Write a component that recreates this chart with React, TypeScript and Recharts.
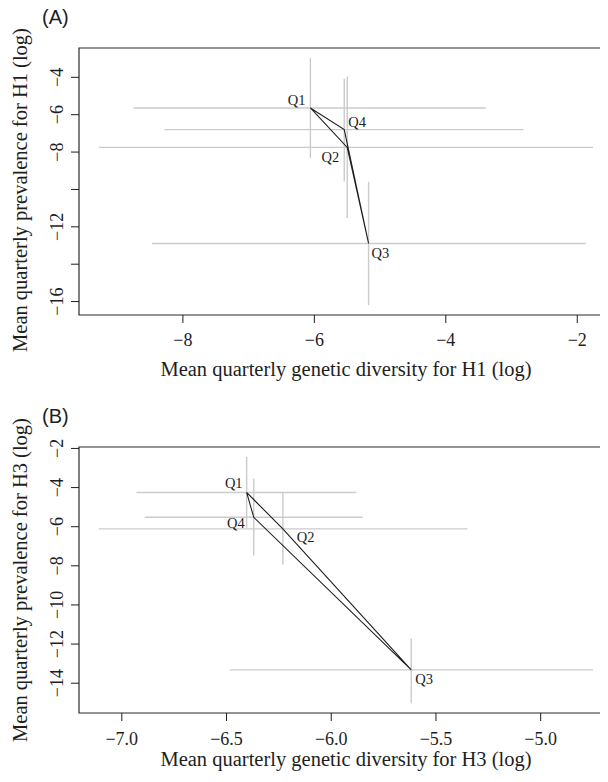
import { ErrorBar, ReferenceArea, Scatter, ScatterChart, XAxis, YAxis } from "recharts";

const quarters = ["Q1", "Q2", "Q3", "Q4"];

// (A) H1 — means and interval ends, log scale
const h1Diversity = [-6.06, -5.5, -5.175, -5.545];
const h1DiversityLow = [-8.75, -9.28, -8.47, -8.28];
const h1DiversityHigh = [-3.39, -1.76, -1.87, -2.82];
const h1Prevalence = [-5.64, -7.75, -12.89, -6.8];
const h1PrevalenceLow = [-8.32, -11.53, -16.19, -9.57];
const h1PrevalenceHigh = [-2.96, -3.96, -9.59, -4.07];
const h1XTicks = [-8, -6, -4, -2];
const h1YTicks = [-4, -6, -8, -10, -12, -14, -16];
const h1YTickLabels = [-4, -6, -8, -12, -16];

// (B) H3
const h3Diversity = [-6.404, -6.231, -5.618, -6.37];
const h3DiversityLow = [-6.93, -7.11, -6.485, -6.89];
const h3DiversityHigh = [-5.88, -5.35, -4.75, -5.85];
const h3Prevalence = [-4.25, -6.11, -13.32, -5.52];
const h3PrevalenceLow = [-6.06, -7.94, -15.02, -7.47];
const h3PrevalenceHigh = [-2.43, -4.25, -11.71, -3.54];
const h3XTicks = [-7.0, -6.5, -6.0, -5.5, -5.0];
const h3YTicks = [-2, -4, -6, -8, -10, -12, -14];

const SERIF = '"Liberation Serif", "Times New Roman", serif';
const SANS = '"Liberation Sans", Arial, sans-serif';
const INK = "#1e1e1e";
const BAR = "#cbcbcb";

type Anchor = "start" | "end";
type LabelPos = Record<string, { dx: number; dy: number; anchor: Anchor }>;

const labelPosA: LabelPos = {
  Q1: { dx: -5, dy: -3, anchor: "end" },
  Q2: { dx: -8, dy: 15, anchor: "end" },
  Q3: { dx: 3, dy: 15, anchor: "start" },
  Q4: { dx: 4, dy: -3, anchor: "start" },
};

const labelPosB: LabelPos = {
  Q1: { dx: -4, dy: -4, anchor: "end" },
  Q2: { dx: 14, dy: 13, anchor: "start" },
  Q3: { dx: 4, dy: 14, anchor: "start" },
  Q4: { dx: -9, dy: 11, anchor: "end" },
};

const serifText = { fontFamily: SERIF, fill: INK };

// R-style axis range: data extent plus 4% each side
function padRange(lo: number[], hi: number[]): [number, number] {
  const min = Math.min(...lo);
  const max = Math.max(...hi);
  const pad = (max - min) * 0.04;
  return [min - pad, max + pad];
}

function fmt(v: number, digits: number) {
  return (v < 0 ? "\u2212" : "") + Math.abs(v).toFixed(digits);
}

function buildPoints(
  xs: number[],
  xLo: number[],
  xHi: number[],
  ys: number[],
  yLo: number[],
  yHi: number[]
) {
  return quarters.map((q, i) => ({
    name: q,
    x: xs[i],
    y: ys[i],
    xErr: [xs[i] - xLo[i], xHi[i] - xs[i]],
    yErr: [ys[i] - yLo[i], yHi[i] - ys[i]],
  }));
}

type Pt = ReturnType<typeof buildPoints>[number];

function Panel({
  points,
  xDomain,
  yDomain,
  xTicks,
  yTicks,
  yTickLabels,
  xDigits,
  labelPos,
  height,
  margin,
  xTickOffset,
}: {
  points: Pt[];
  xDomain: [number, number];
  yDomain: [number, number];
  xTicks: number[];
  yTicks: number[];
  yTickLabels: number[];
  xDigits: number;
  labelPos: LabelPos;
  height: number;
  margin: { top: number; right: number; bottom: number; left: number };
  xTickOffset: number;
}) {
  const loop = [...points, points[0]];

  return (
    <ScatterChart width={640} height={height} margin={margin}>
      <ReferenceArea
        x1={xDomain[0]}
        x2={xDomain[1]}
        y1={yDomain[0]}
        y2={yDomain[1]}
        fill="none"
        stroke="#2a2a2a"
        strokeWidth={1.2}
        ifOverflow="visible"
      />
      <XAxis
        type="number"
        dataKey="x"
        domain={xDomain}
        ticks={xTicks}
        allowDataOverflow
        interval={0}
        axisLine={false}
        tickSize={8}
        tickMargin={0}
        tickLine={{ stroke: INK }}
        height={60}
        tick={(p: any) => (
          <text
            x={p.x}
            y={p.y + xTickOffset}
            textAnchor="middle"
            style={{ ...serifText, fontSize: 18 }}
          >
            {fmt(p.payload.value, xDigits)}
          </text>
        )}
      />
      <YAxis
        type="number"
        dataKey="y"
        domain={yDomain}
        ticks={yTicks}
        allowDataOverflow
        interval={0}
        axisLine={false}
        tickSize={8}
        tickMargin={0}
        tickLine={{ stroke: INK }}
        width={60}
        tick={(p: any) =>
          yTickLabels.includes(p.payload.value) ? (
            <text
              x={p.x - 8}
              y={p.y}
              transform={`rotate(-90 ${p.x - 8} ${p.y})`}
              textAnchor="middle"
              style={{ ...serifText, fontSize: 18 }}
            >
              {fmt(p.payload.value, 0)}
            </text>
          ) : (
            <g />
          )
        }
      />
      <Scatter data={points} isAnimationActive={false} shape={() => <g />}>
        <ErrorBar dataKey="xErr" direction="x" width={0} stroke={BAR} strokeWidth={1.4} />
        <ErrorBar dataKey="yErr" direction="y" width={0} stroke={BAR} strokeWidth={1.4} />
      </Scatter>
      <Scatter
        data={loop}
        isAnimationActive={false}
        line={{ stroke: INK, strokeWidth: 1.1 }}
        lineType="joint"
        shape={() => <g />}
      />
      <Scatter
        data={points}
        isAnimationActive={false}
        shape={(p: any) => {
          const pos = labelPos[p.payload.name];
          return (
            <text
              x={p.cx + pos.dx}
              y={p.cy + pos.dy}
              textAnchor={pos.anchor}
              style={{ ...serifText, fontSize: 14.5 }}
            >
              {p.payload.name}
            </text>
          );
        }}
      />
    </ScatterChart>
  );
}

const titleStyle = {
  position: "absolute" as const,
  width: 440,
  height: 24,
  lineHeight: "24px",
  textAlign: "center" as const,
  fontFamily: SERIF,
  fontSize: 20.5,
  color: INK,
  whiteSpace: "nowrap" as const,
};

const tagStyle = {
  position: "absolute" as const,
  left: 42,
  height: 24,
  lineHeight: "24px",
  fontFamily: SANS,
  fontSize: 20,
  color: INK,
};

export default function App() {
  const pointsA = buildPoints(
    h1Diversity,
    h1DiversityLow,
    h1DiversityHigh,
    h1Prevalence,
    h1PrevalenceLow,
    h1PrevalenceHigh
  );
  const pointsB = buildPoints(
    h3Diversity,
    h3DiversityLow,
    h3DiversityHigh,
    h3Prevalence,
    h3PrevalenceLow,
    h3PrevalenceHigh
  );

  return (
    <div
      style={{
        position: "relative",
        width: 608,
        height: 782,
        margin: -8,
        overflow: "hidden",
        background: "#fff",
      }}
    >
      <div style={{ position: "absolute", left: 0, top: 0 }}>
        <Panel
          points={pointsA}
          xDomain={padRange(h1DiversityLow, h1DiversityHigh)}
          yDomain={padRange(h1PrevalenceLow, h1PrevalenceHigh)}
          xTicks={h1XTicks}
          yTicks={h1YTicks}
          yTickLabels={h1YTickLabels}
          xDigits={0}
          labelPos={labelPosA}
          height={400}
          margin={{ top: 48, right: 27.2, bottom: 25, left: 19 }}
          xTickOffset={23}
        />
      </div>
      <div style={{ position: "absolute", left: 0, top: 400 }}>
        <Panel
          points={pointsB}
          xDomain={padRange(h3DiversityLow, h3DiversityHigh)}
          yDomain={padRange(h3PrevalenceLow, h3PrevalenceHigh)}
          xTicks={h3XTicks}
          yTicks={h3YTicks}
          yTickLabels={h3YTicks}
          xDigits={1}
          labelPos={labelPosB}
          height={382}
          margin={{ top: 47, right: 27.2, bottom: 9, left: 19 }}
          xTickOffset={24}
        />
      </div>

      <div style={{ ...tagStyle, top: 5 }}>(A)</div>
      <div style={{ ...tagStyle, top: 404 }}>(B)</div>

      <div style={{ ...titleStyle, left: 346 - 220, top: 368.5 - 12 }}>
        Mean quarterly genetic diversity for H1 (log)
      </div>
      <div style={{ ...titleStyle, left: 346 - 220, top: 759 - 12 }}>
        Mean quarterly genetic diversity for H3 (log)
      </div>
      <div
        style={{
          ...titleStyle,
          left: 20 - 220,
          top: 190 - 12,
          transform: "rotate(-90deg)",
        }}
      >
        Mean quarterly prevalence for H1 (log)
      </div>
      <div
        style={{
          ...titleStyle,
          left: 20 - 220,
          top: 580 - 12,
          transform: "rotate(-90deg)",
        }}
      >
        Mean quarterly prevalence for H3 (log)
      </div>
    </div>
  );
}
